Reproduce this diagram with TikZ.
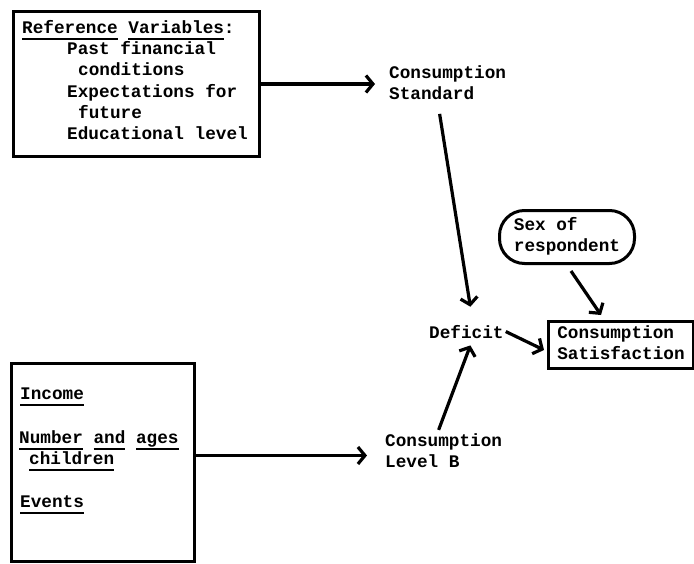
\documentclass[tikz,border=0pt]{standalone}
\usepackage{fontspec}
\newfontfamily\tw{Liberation Mono}
\usetikzlibrary{arrows.meta}
\newcommand\tfont{\tw\bfseries\fontsize{17.7}{21.3}\selectfont}
\newcommand\myul[1]{\setbox0\hbox{#1}\rlap{\rule[-6.5pt]{\wd0}{1.8pt}}\box0\relax}
\newcommand\twolines[2]{\begin{tabular}[t]{@{}l@{}}#1\\#2\end{tabular}}
\begin{document}
\begin{tikzpicture}[x=1pt,y=-1pt,
 txt/.style={font=\tfont, inner sep=0pt, anchor=base west},
 boxed/.style={draw, line width=3pt, inner sep=0pt, anchor=north west, font=\tfont},
 arr/.style={line width=3.2pt, -{Straight Barb[length=7pt,width=17pt,line width=3.2pt]}}]
\useasboundingbox (0,0) rectangle (694,563);
% box 1
\node[boxed, minimum width=246pt, minimum height=145pt] (box1) at (12,10) {};
\node[txt] (r1) at (22,33) {\myul{Reference} \myul{Variables}:};
\node[txt] (r2) at (67,54) {Past financial};
\node[txt] (r3) at (78,75.5) {conditions};
\node[txt] (r4) at (67,97) {Expectations for};
\node[txt] (r5) at (78,118) {future};
\node[txt] (r6) at (67,139.5) {Educational level};
% right side
\node[txt] (cstd) at (389,78) {\twolines{Consumption}{Standard}};
\node[txt] (deficit) at (429,338) {Deficit};
\node[boxed, minimum width=135pt, minimum height=53pt, rounded corners=25pt] (sex) at (498,209) {\twolines{Sex of}{respondent}};
\node[boxed, minimum width=145pt, minimum height=47pt] (csat) at (547,320) {\twolines{Consumption}{Satisfaction}};
\node[txt] (clevb) at (385,446) {\twolines{Consumption}{Level B}};
% box 2
\node[boxed, minimum width=183pt, minimum height=198pt] (box2) at (10,362) {};
\node[txt] (b1) at (20,399) {\myul{Income}};
\node[txt] (b2) at (19,443) {\myul{Number} \myul{and} \myul{ages}};
\node[txt] (b3) at (29,464) {\myul{children}};
\node[txt] (b4) at (20,507) {\myul{Events}};
% connectors
\draw[arr] (box1.east) -- ([xshift=-14pt]box1.east -| cstd.west);
\draw[arr] ([xshift=-8pt,yshift=-8pt]cstd.south) -- ([xshift=4pt,yshift=18pt]deficit.north);
\draw[arr] ([xshift=-5pt,yshift=1pt]clevb.north) -- ([xshift=4pt,yshift=-7pt]deficit.south);
\draw[arr] ([xshift=2pt]deficit.east) -- ([xshift=-3pt,yshift=-5pt]csat.west);
\draw[arr] ([xshift=4pt,yshift=-6pt]sex.south) -- ([xshift=-20pt,yshift=5pt]csat.north);
\draw[arr] ([yshift=7pt]box2.east) -- ([yshift=7pt,xshift=-18pt]box2.east -| clevb.west);
\end{tikzpicture}
\end{document}
